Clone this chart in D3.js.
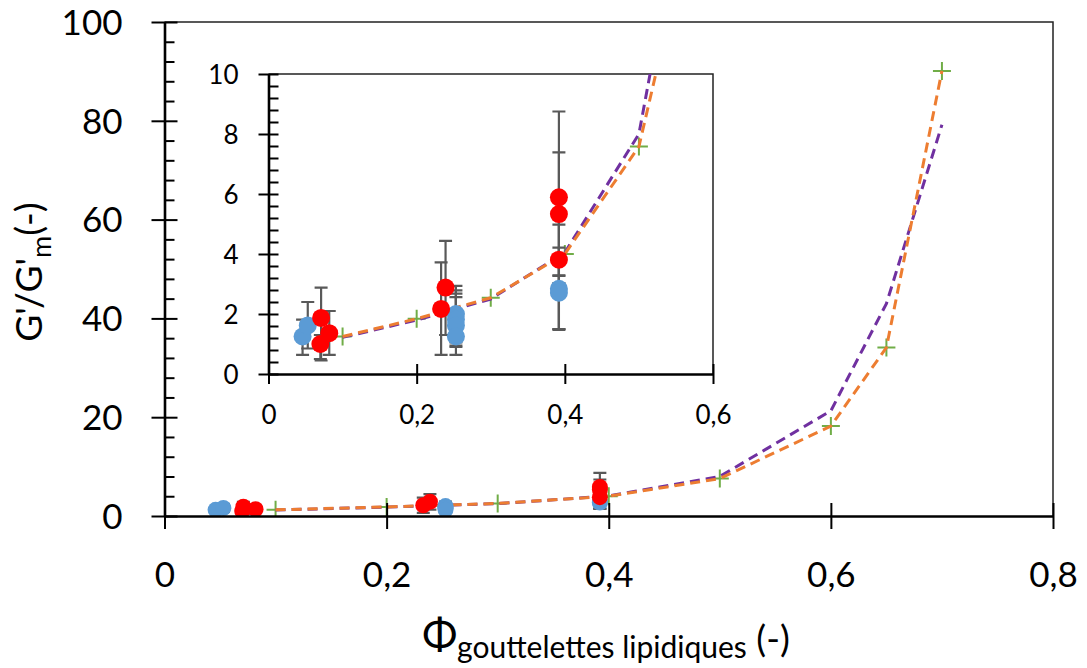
<!DOCTYPE html>
<html>
<head>
<meta charset="utf-8">
<script src="https://cdn.jsdelivr.net/npm/d3@7"></script>
<style>
html,body{margin:0;padding:0;background:#fff;}
svg{display:block;font-family:Lato,"Open Sans",sans-serif;}
</style>
</head>
<body>
<svg id="chart" width="1087" height="668"></svg>
<script>
// ---- data ----
const modelX   = [0.1, 0.2, 0.3, 0.4, 0.5, 0.6, 0.65, 0.7];
const orangeY  = [1.25, 1.84, 2.54, 4.0, 7.58, 18.2, 34.1, 90.1];
const purpleY  = [1.22, 1.80, 2.50, 4.05, 8.0, 21.3, 43.0, 79.2];

const blueX  = [0.046, 0.053, 0.253, 0.253, 0.253, 0.253, 0.392, 0.392];
const blueY  = [1.25, 1.62, 2.0, 1.82, 1.62, 1.25, 2.84, 2.71];
const blueLo = [0.64, 0.85, 1.05, 0.9, 0.64, 0.95, 1.47, 1.5];
const blueHi = [1.81, 2.40, 2.94, 2.79, 2.68, 2.56, 4.21, 3.29];

const redX  = [0.071, 0.082, 0.070, 0.233, 0.239, 0.392, 0.392, 0.392];
const redY  = [1.87, 1.36, 1.0, 2.17, 2.88, 5.89, 5.33, 3.81];
const redLo = [0.45, 0.64, 0.5, 0.64, 1.30, 3.03, 3.27, 1.5];
const redHi = [2.88, 2.10, 1.3, 3.72, 4.44, 8.75, 7.39, 4.98];

const mainXTicks = [0, 0.2, 0.4, 0.6, 0.8];
const mainYTicks = [0, 20, 40, 60, 80, 100];
const insetXTicks = [0, 0.2, 0.4, 0.6];
const insetYTicks = [0, 2, 4, 6, 8, 10];
const fmt = d => String(d).replace('.', ',');

// ---- styles ----
const C = {orange:'#ED7D31', purple:'#7030A0', green:'#70AD47', blue:'#5B9BD5', red:'#FF0000', err:'#595959'};

const svg = d3.select('#chart');

function panel(g, x, y, o) {
  const [x0, x1] = x.range(), [y0, y1] = y.range();
  const clipId = 'clip' + o.id;
  g.append('clipPath').attr('id', clipId).append('rect')
    .attr('x', x0).attr('y', y1).attr('width', x1 - x0).attr('height', y0 - y1);
  g.append('rect').attr('x', x0).attr('y', y1).attr('width', x1 - x0).attr('height', y0 - y1)
    .attr('fill', '#fff');
  // frame top/right
  g.append('path').attr('d', `M${x0},${y1}H${x1}V${y0}`).attr('fill', 'none')
    .attr('stroke', '#222').attr('stroke-width', 1.5);

  const plot = g.append('g').attr('clip-path', `url(#${clipId})`);
  // pluses
  plot.append('g').selectAll('path').data(modelX.map((d, i) => [d, orangeY[i]])).join('path')
    .attr('d', d => `M${x(d[0]) - 9},${y(d[1])}h18M${x(d[0])},${y(d[1]) - 9}v18`)
    .attr('stroke', C.green).attr('stroke-width', 2).attr('fill', 'none');
  // model lines
  const line = d3.line().x(d => x(d[0])).y(d => y(d[1]));
  plot.append('path').datum(modelX.map((d, i) => [d, purpleY[i]])).attr('d', line)
    .attr('fill', 'none').attr('stroke', C.purple).attr('stroke-width', 3).attr('stroke-dasharray', '10,6');
  plot.append('path').datum(modelX.map((d, i) => [d, orangeY[i]])).attr('d', line)
    .attr('fill', 'none').attr('stroke', C.orange).attr('stroke-width', 3).attr('stroke-dasharray', '10,6');
  // error bars
  const errs = blueX.map((d, i) => [d, blueLo[i], blueHi[i]])
    .concat(redX.map((d, i) => [d, redLo[i], redHi[i]]));
  plot.append('g').selectAll('path').data(errs).join('path')
    .attr('d', d => `M${x(d[0])},${y(d[1])}V${y(d[2])}M${x(d[0]) - 6.5},${y(d[1])}h13M${x(d[0]) - 6.5},${y(d[2])}h13`)
    .attr('stroke', C.err).attr('stroke-width', 2.2).attr('fill', 'none');
  // points
  plot.append('g').selectAll('circle').data(blueX.map((d, i) => [d, blueY[i]])).join('circle')
    .attr('cx', d => x(d[0])).attr('cy', d => y(d[1])).attr('r', o.r).attr('fill', C.blue);
  plot.append('g').selectAll('circle').data(redX.map((d, i) => [d, redY[i]])).join('circle')
    .attr('cx', d => x(d[0])).attr('cy', d => y(d[1])).attr('r', o.r).attr('fill', C.red);

  // axes
  const ax = g.append('g').attr('transform', `translate(0,${y0})`)
    .call(d3.axisBottom(x).tickValues(o.xTicks).tickFormat(fmt).tickSizeInner(o.major).tickSizeOuter(0).tickPadding(o.xPad));
  ax.selectAll('.tick line').attr('y1', -o.major).attr('y2', o.major);
  const ay = g.append('g').attr('transform', `translate(${x0},0)`)
    .call(d3.axisLeft(y).tickValues(o.yTicks).tickFormat(fmt).tickSizeInner(o.major).tickSizeOuter(0).tickPadding(o.yPad));
  ay.selectAll('.tick line').attr('x1', -o.major).attr('x2', o.major);
  g.append('g').attr('transform', `translate(${x0},0)`)
    .call(d3.axisLeft(y).tickValues(o.minor).tickFormat('').tickSizeInner(-10).tickSizeOuter(0))
    .select('.domain').remove();
  [ax, ay].forEach(a => {
    a.select('.domain').attr('stroke', '#000').attr('stroke-width', 2.6);
    a.selectAll('.tick line').attr('stroke', '#000').attr('stroke-width', 2);
    a.selectAll('.tick text').attr('fill', '#000').attr('font-size', o.font).attr('font-family', 'Lato');
  });
  g.selectAll('.tick line').attr('stroke', '#000').attr('stroke-width', 2);
  ay.selectAll('.tick text').attr('dy', '0.35em');
}

// main
const xMain = d3.scaleLinear().domain([0, 0.8]).range([164.5, 1053]);
const yMain = d3.scaleLinear().domain([0, 100]).range([516, 22]);
panel(svg.append('g'), xMain, yMain, {
  id: 'main', r: 8, major: 13, xTicks: mainXTicks, yTicks: mainYTicks,
  minor: d3.range(0, 101, 4).filter(v => v % 20 !== 0), font: 35, xPad: 33, yPad: 29
});

// inset
const xIn = d3.scaleLinear().domain([0, 0.6]).range([268.5, 713]);
const yIn = d3.scaleLinear().domain([0, 10]).range([374, 74]);
panel(svg.append('g'), xIn, yIn, {
  id: 'inset', r: 9, major: 10, xTicks: insetXTicks, yTicks: insetYTicks,
  minor: d3.range(0, 10.01, 0.4).map(v => +v.toFixed(1)).filter(v => Math.abs(v % 2) > 1e-6 && Math.abs(v % 2 - 2) > 1e-6),
  font: 26, xPad: 22, yPad: 20
});

// axis titles
const yl = svg.append('text').attr('transform', 'translate(42,272) rotate(-90)')
  .attr('text-anchor', 'middle').attr('font-size', 37).attr('fill', '#000');
yl.append('tspan').text("G'/G'");
yl.append('tspan').attr('font-size', 27).attr('dy', 9).text('m');
yl.append('tspan').attr('dy', -9).text('(-)');

const xl = svg.append('text').attr('x', 606).attr('y', 650)
  .attr('text-anchor', 'middle').attr('fill', '#000');
xl.append('tspan').attr('font-size', 42).text('Φ');
xl.append('tspan').attr('font-size', 30).attr('dy', 8).text('gouttelettes lipidiques');
xl.append('tspan').attr('font-size', 37).attr('dy', -6).text(' (-)');
</script>
</body>
</html>
